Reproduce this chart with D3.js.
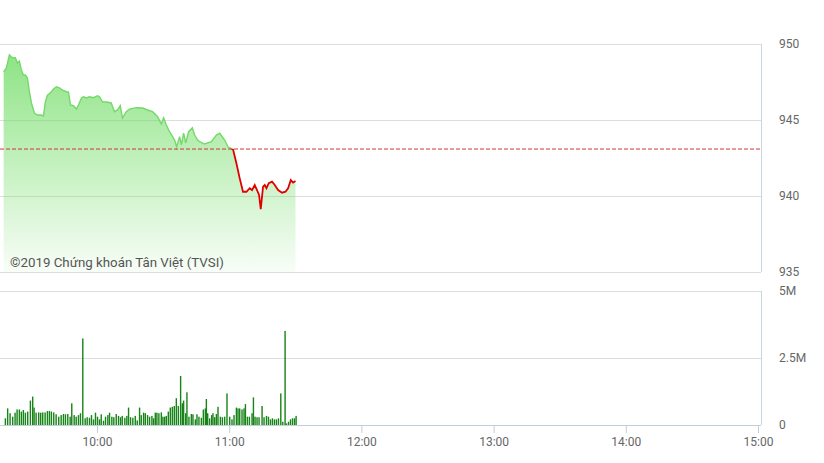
<!DOCTYPE html>
<html><head><meta charset="utf-8">
<script src="https://cdn.jsdelivr.net/npm/d3@7"></script>
<style>
html,body{margin:0;padding:0;background:#fff;}
svg{display:block;font-family:Roboto,"Noto Sans",sans-serif;}
</style></head><body>
<svg id="chart" width="824" height="463"></svg>
<script>
const priceTimes = [
"09:17:38","09:18:52","09:20:14","09:21:08","09:22:03","09:22:57","09:23:52","09:24:46","09:25:41","09:26:35",
"09:27:30","09:28:25","09:29:19","09:30:14","09:31:35","09:32:57","09:34:46","09:35:41","09:36:35","09:37:30",
"09:38:52","09:40:14","09:41:35","09:42:57","09:44:19","09:46:08","09:47:03","09:47:57","09:49:19","09:50:41",
"09:51:35","09:52:57","09:53:52","09:55:14","09:56:35","09:58:25","10:00:14","10:01:08","10:02:30","10:04:19",
"10:06:27","10:07:57","10:09:19","10:10:33","10:11:35","10:13:16","10:14:46","10:17:49","10:20:41","10:22:57",
"10:25:14","10:27:30","10:29:11","10:30:14","10:31:27","10:32:57","10:35:14","10:36:08","10:37:30","10:38:16",
"10:39:19","10:40:14","10:41:35","10:43:16","10:44:19","10:45:41","10:46:35","10:48:52","10:51:55","10:54:11",
"10:55:41","10:57:57","10:59:27","11:01:44","11:03:16","11:04:46","11:06:16","11:07:49","11:09:19","11:10:22",
"11:11:35","11:12:38","11:13:33","11:14:19","11:15:22","11:16:08","11:16:55","11:17:57","11:19:27","11:20:41",
"11:22:11","11:24:00","11:25:33","11:26:44","11:27:57","11:29:00","11:30:05"];
const priceValues = [
948.16,948.42,949.28,949.16,949.08,949.10,948.75,948.88,948.29,947.96,
947.96,947.76,946.86,946.12,945.46,945.33,945.33,945.26,946.20,946.64,
946.78,947.04,947.19,947.12,946.97,946.86,946.84,945.99,945.94,945.72,
945.99,946.45,946.53,946.45,946.53,946.47,946.60,946.53,946.20,946.18,
946.12,945.55,945.66,945.94,945.13,945.55,945.72,945.81,945.79,945.66,
945.55,945.22,944.74,945.15,944.67,944.23,943.68,943.24,943.90,943.36,
944.14,943.49,944.23,944.49,944.01,943.68,943.57,943.42,943.57,944.01,
944.13,943.68,943.24,943.07,942.15,941.16,940.28,940.28,940.51,940.39,
940.72,940.39,940.07,939.13,940.61,940.72,940.51,940.84,940.94,940.72,
940.39,940.22,940.28,940.51,941.05,940.88,940.99];
const referencePrice = 943.09;
const priceTicks = [935, 940, 945, 950];
const priceTickLabels = ["935", "940", "945", "950"];

const volTimes = [
"09:18:25","09:19:27","09:20:33","09:21:44","09:22:49","09:23:44","09:24:46","09:25:41","09:26:35","09:27:30",
"09:28:33","09:29:46","09:30:49","09:31:27","09:32:22","09:33:33","09:34:27","09:35:22","09:36:27","09:37:30",
"09:38:25","09:39:19","09:40:22","09:41:27","09:42:38","09:43:44","09:44:46","09:45:41","09:46:44","09:47:49",
"09:48:33","09:49:38","09:50:33","09:51:35","09:52:30","09:53:33","09:54:38","09:55:33","09:56:35","09:57:30",
"09:58:25","09:59:19","10:00:14","10:01:08","10:01:55","10:02:57","10:03:52","10:04:55","10:05:41","10:06:44",
"10:07:38","10:08:44","10:09:46","10:10:41","10:11:27","10:12:38","10:13:33","10:14:19","10:15:14","10:16:16",
"10:17:22","10:18:16","10:19:19","10:20:05","10:21:08","10:21:55","10:22:57","10:23:52","10:24:55","10:25:41",
"10:26:27","10:27:11","10:28:05","10:29:11","10:29:55","10:30:41","10:31:27","10:32:22","10:33:16","10:34:11",
"10:35:05","10:36:00","10:36:55","10:37:57","10:38:44","10:39:19","10:40:14","10:40:49","10:41:44","10:42:49",
"10:43:33","10:44:38","10:45:22","10:46:16","10:47:22","10:48:16","10:49:11","10:49:38","10:50:14","10:51:08",
"10:52:03","10:52:38","10:53:25","10:54:11","10:54:55","10:56:00","10:56:55","10:57:57","10:59:00","11:00:14",
"11:01:16","11:02:11","11:03:16","11:04:00","11:04:46","11:05:49","11:06:44","11:07:22","11:08:16","11:09:11",
"11:10:22","11:11:00","11:11:44","11:12:38","11:13:33","11:14:55","11:15:49","11:16:55","11:17:49","11:18:44",
"11:19:38","11:20:33","11:21:27","11:22:22","11:23:25","11:24:19","11:25:22","11:26:00","11:26:55","11:27:49",
"11:28:44","11:29:38","11:30:22"];
// volume in millions of shares
const volValues = [
0.25,0.62,0.44,0.31,0.46,0.58,0.58,0.50,0.56,0.46,
0.50,0.91,1.06,0.65,0.46,0.47,0.46,0.47,0.47,0.52,
0.52,0.50,0.47,0.40,0.31,0.37,0.41,0.40,0.41,0.31,
0.81,0.37,0.31,0.37,0.44,3.23,0.25,0.29,0.27,0.37,
0.21,0.46,0.31,0.21,0.40,0.16,0.31,0.37,0.46,0.31,
0.29,0.41,0.34,0.29,0.34,0.27,0.34,0.65,0.29,0.27,
0.34,0.17,0.65,0.37,0.46,0.44,0.37,0.31,0.34,0.25,
0.46,0.46,0.44,0.47,0.31,0.31,0.34,0.50,0.65,0.68,
0.71,1.00,0.71,1.83,0.81,0.91,0.44,1.22,0.31,0.41,
0.40,0.21,0.40,0.31,0.27,0.58,0.62,0.97,0.44,0.25,
0.37,0.44,0.29,0.41,0.68,0.31,0.29,0.31,1.18,0.31,
0.21,0.37,0.65,0.62,0.62,0.58,0.62,0.78,0.31,0.31,
0.44,1.03,0.31,0.29,0.29,0.71,0.29,0.34,0.31,0.21,
0.25,0.21,0.21,0.25,1.18,0.12,3.51,0.06,0.12,0.21,
0.25,0.25,0.34];
const volTicks = [0, 2.5, 5];
const volTickLabels = ["0", "2.5M", "5M"];
const timeTicks = ["10:00", "11:00", "12:00", "13:00", "14:00", "15:00"];
const watermark = "©2019 Chứng khoán Tân Việt (TVSI)";

const parseT = d3.timeParse("%H:%M:%S");
const parseHM = d3.timeParse("%H:%M");
const plotL = 0, plotR = 761;
const pTop = 44, pBot = 272, vTop = 291, vBot = 425;

const x = d3.scaleTime().domain([parseHM("10:00"), parseHM("15:00")]).range([97, 758]);
const yP = d3.scaleLinear().domain([935, 950]).range([pBot, pTop]);
const yV = d3.scaleLinear().domain([0, 5]).range([vBot, vTop]);

const price = priceTimes.map((t, i) => ({t: parseT(t), v: priceValues[i]}));
const vol = volTimes.map((t, i) => ({t: parseT(t), v: volValues[i]}));

const svg = d3.select("#chart");
const defs = svg.append("defs");
const grad = defs.append("linearGradient").attr("id", "fillGrad")
  .attr("gradientUnits", "userSpaceOnUse").attr("x1", 0).attr("x2", 0)
  .attr("y1", pTop).attr("y2", pBot);
grad.append("stop").attr("offset", 0).attr("stop-color", "#6fdc63").attr("stop-opacity", 0.82);
grad.append("stop").attr("offset", 1).attr("stop-color", "#6fdc63").attr("stop-opacity", 0.05);

const yRef = yP(referencePrice);
defs.append("clipPath").attr("id", "clipAbove").append("rect")
  .attr("x", plotL).attr("y", pTop - 10).attr("width", plotR - plotL).attr("height", yRef - pTop + 10);
defs.append("clipPath").attr("id", "clipBelow").append("rect")
  .attr("x", plotL).attr("y", yRef).attr("width", plotR - plotL).attr("height", pBot - yRef);

// price panel grid
const gridColor = "#dddddd";
svg.append("g").selectAll("line").data(priceTicks).join("line")
  .attr("x1", plotL).attr("x2", plotR)
  .attr("y1", d => yP(d) + 0.5).attr("y2", d => yP(d) + 0.5)
  .attr("stroke", gridColor).attr("stroke-width", 1);
svg.append("line").attr("x1", plotR + 0.5).attr("x2", plotR + 0.5).attr("y1", pTop).attr("y2", pBot)
  .attr("stroke", "#c9d5de");

// area
const area = d3.area().x(d => x(d.t)).y0(yP(935)).y1(d => yP(d.v));
svg.append("path").datum(price).attr("d", area).attr("fill", "url(#fillGrad)");

// watermark
svg.append("text").attr("x", 10).attr("y", 267).attr("font-size", 13.5)
  .attr("textLength", 214).attr("lengthAdjust", "spacingAndGlyphs")
  .attr("fill", "#555").text(watermark);

// lines
const line = d3.line().x(d => x(d.t)).y(d => yP(d.v));
svg.append("path").datum(price).attr("d", line).attr("fill", "none")
  .attr("stroke", "#74d96a").attr("stroke-width", 1.4).attr("clip-path", "url(#clipAbove)");
svg.append("path").datum(price).attr("d", line).attr("fill", "none")
  .attr("stroke", "#e00000").attr("stroke-width", 1.8).attr("clip-path", "url(#clipBelow)");

// reference line
svg.append("line").attr("x1", plotL).attr("x2", plotR).attr("y1", yRef).attr("y2", yRef)
  .attr("stroke", "#d0353a").attr("stroke-width", 1).attr("stroke-dasharray", "4,2");

// price axis labels
const axP = d3.axisRight(yP).tickValues(priceTicks).tickSize(0).tickPadding(18)
  .tickFormat((d, i) => priceTickLabels[i]);
const gP = svg.append("g").attr("transform", `translate(${plotR},0)`).call(axP);
gP.select(".domain").remove();
gP.selectAll("text").attr("fill", "#666").attr("font-size", 12).attr("font-family", "Roboto");

// volume panel grid
svg.append("g").selectAll("line").data(volTicks.filter(d => d > 0)).join("line")
  .attr("x1", plotL).attr("x2", plotR)
  .attr("y1", d => yV(d) + 0.5).attr("y2", d => yV(d) + 0.5)
  .attr("stroke", gridColor);
svg.append("line").attr("x1", plotR + 0.5).attr("x2", plotR + 0.5).attr("y1", vTop).attr("y2", vBot)
  .attr("stroke", "#c9d5de");

// volume bars
svg.append("g").selectAll("rect").data(vol).join("rect")
  .attr("x", d => x(d.t) - 0.7).attr("width", 1.4)
  .attr("y", d => yV(d.v)).attr("height", d => vBot - yV(d.v))
  .attr("fill", "#168416");

// bottom axis line
svg.append("line").attr("x1", plotL).attr("x2", plotR).attr("y1", vBot + 0.5).attr("y2", vBot + 0.5)
  .attr("stroke", "#c0cfdc");

const axX = d3.axisBottom(x).tickValues(timeTicks.map(parseHM)).tickSize(8).tickPadding(4)
  .tickFormat((d, i) => timeTicks[i]);
const gX = svg.append("g").attr("transform", `translate(0,${vBot})`).call(axX);
gX.select(".domain").remove();
gX.selectAll(".tick line").attr("stroke", "#c0cfdc");
gX.selectAll("text").attr("fill", "#666").attr("font-size", 12).attr("font-family", "Roboto");

// volume axis labels
const axV = d3.axisRight(yV).tickValues(volTicks).tickSize(0).tickPadding(18)
  .tickFormat((d, i) => volTickLabels[i]);
const gV = svg.append("g").attr("transform", `translate(${plotR},0)`).call(axV);
gV.select(".domain").remove();
gV.selectAll("text").attr("fill", "#666").attr("font-size", 12).attr("font-family", "Roboto");
</script>
</body></html>
